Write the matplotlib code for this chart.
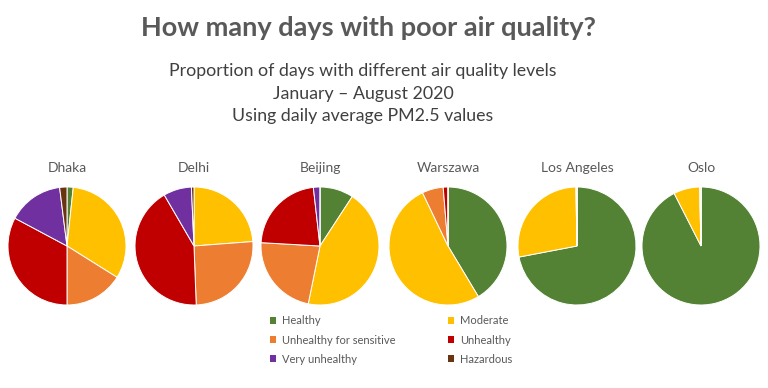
import matplotlib.pyplot as plt
from matplotlib.patches import Patch

cities = ['Dhaka', 'Delhi', 'Beijing', 'Warszawa', 'Los Angeles', 'Oslo']
levels = ['Healthy', 'Moderate', 'Unhealthy for sensitive', 'Unhealthy',
          'Very unhealthy', 'Hazardous']
colors = ['#548235', '#FFC000', '#ED7D31', '#C00000', '#7030A0', '#6B3410']

# share of days (%) per level
dhaka = [1.7, 32.2, 16.1, 32.8, 15.2, 2.0]
delhi = [0.0, 23.8, 25.6, 42.2, 7.7, 0.7]
beijing = [9.2, 44.0, 22.7, 22.3, 1.8, 0.0]
warszawa = [41.4, 51.5, 5.8, 1.3, 0.0, 0.0]
los_angeles = [72.0, 27.7, 0.3, 0.0, 0.0, 0.0]
oslo = [92.5, 7.1, 0.4, 0.0, 0.0, 0.0]
shares = [dhaka, delhi, beijing, warszawa, los_angeles, oslo]

W, H = 768, 388
fig = plt.figure(figsize=(W / 100, H / 100), dpi=100)
fig.patch.set_facecolor('white')
font = 'Lato'

fig.text(0.5 - 16 / W, 1 - 28 / H, 'How many days with poor air quality?', ha='center', va='center',
         fontsize=19.5, fontweight='bold', color='#595959', family=font)
subs = ['Proportion of days with different air quality levels',
        'January \u2013 August 2020', 'Using daily average PM2.5 values']
for i, s in enumerate(subs):
    fig.text(0.5 - 21 / W, 1 - (71 + 22.5 * i) / H, s, ha='center', va='center',
             fontsize=12.8, color='#404040', family=font)

# pie centres / radius in pixels
cx = [67, 194, 320, 448, 577, 701]
cy = 246
r = 59
for i, city in enumerate(cities):
    ax = fig.add_axes([(cx[i] - r) / W, (H - cy - r) / H, 2 * r / W, 2 * r / H])
    ax.pie(shares[i], colors=colors, startangle=90, counterclock=False,
           wedgeprops=dict(edgecolor='white', linewidth=0.7))
    ax.set_xlim(-1, 1)
    ax.set_ylim(-1, 1)
    ax.axis('off')
    fig.text(cx[i] / W, 1 - 168 / H, city, ha='center', va='center',
             fontsize=10, color='#595959', family=font)

order = [0, 2, 4, 1, 3, 5]
handles = [Patch(facecolor=colors[k], edgecolor='none', label=levels[k]) for k in order]
fig.legend(handles=handles, ncol=2, loc='center', bbox_to_anchor=(391 / W, 1 - 340 / H),
           frameon=False, handlelength=0.6, handleheight=0.6,
           handletextpad=0.5, columnspacing=4.7, labelspacing=0.75,
           labelcolor='#595959', prop=dict(family=font, size=8))

fig.savefig('out.png', dpi=100)
